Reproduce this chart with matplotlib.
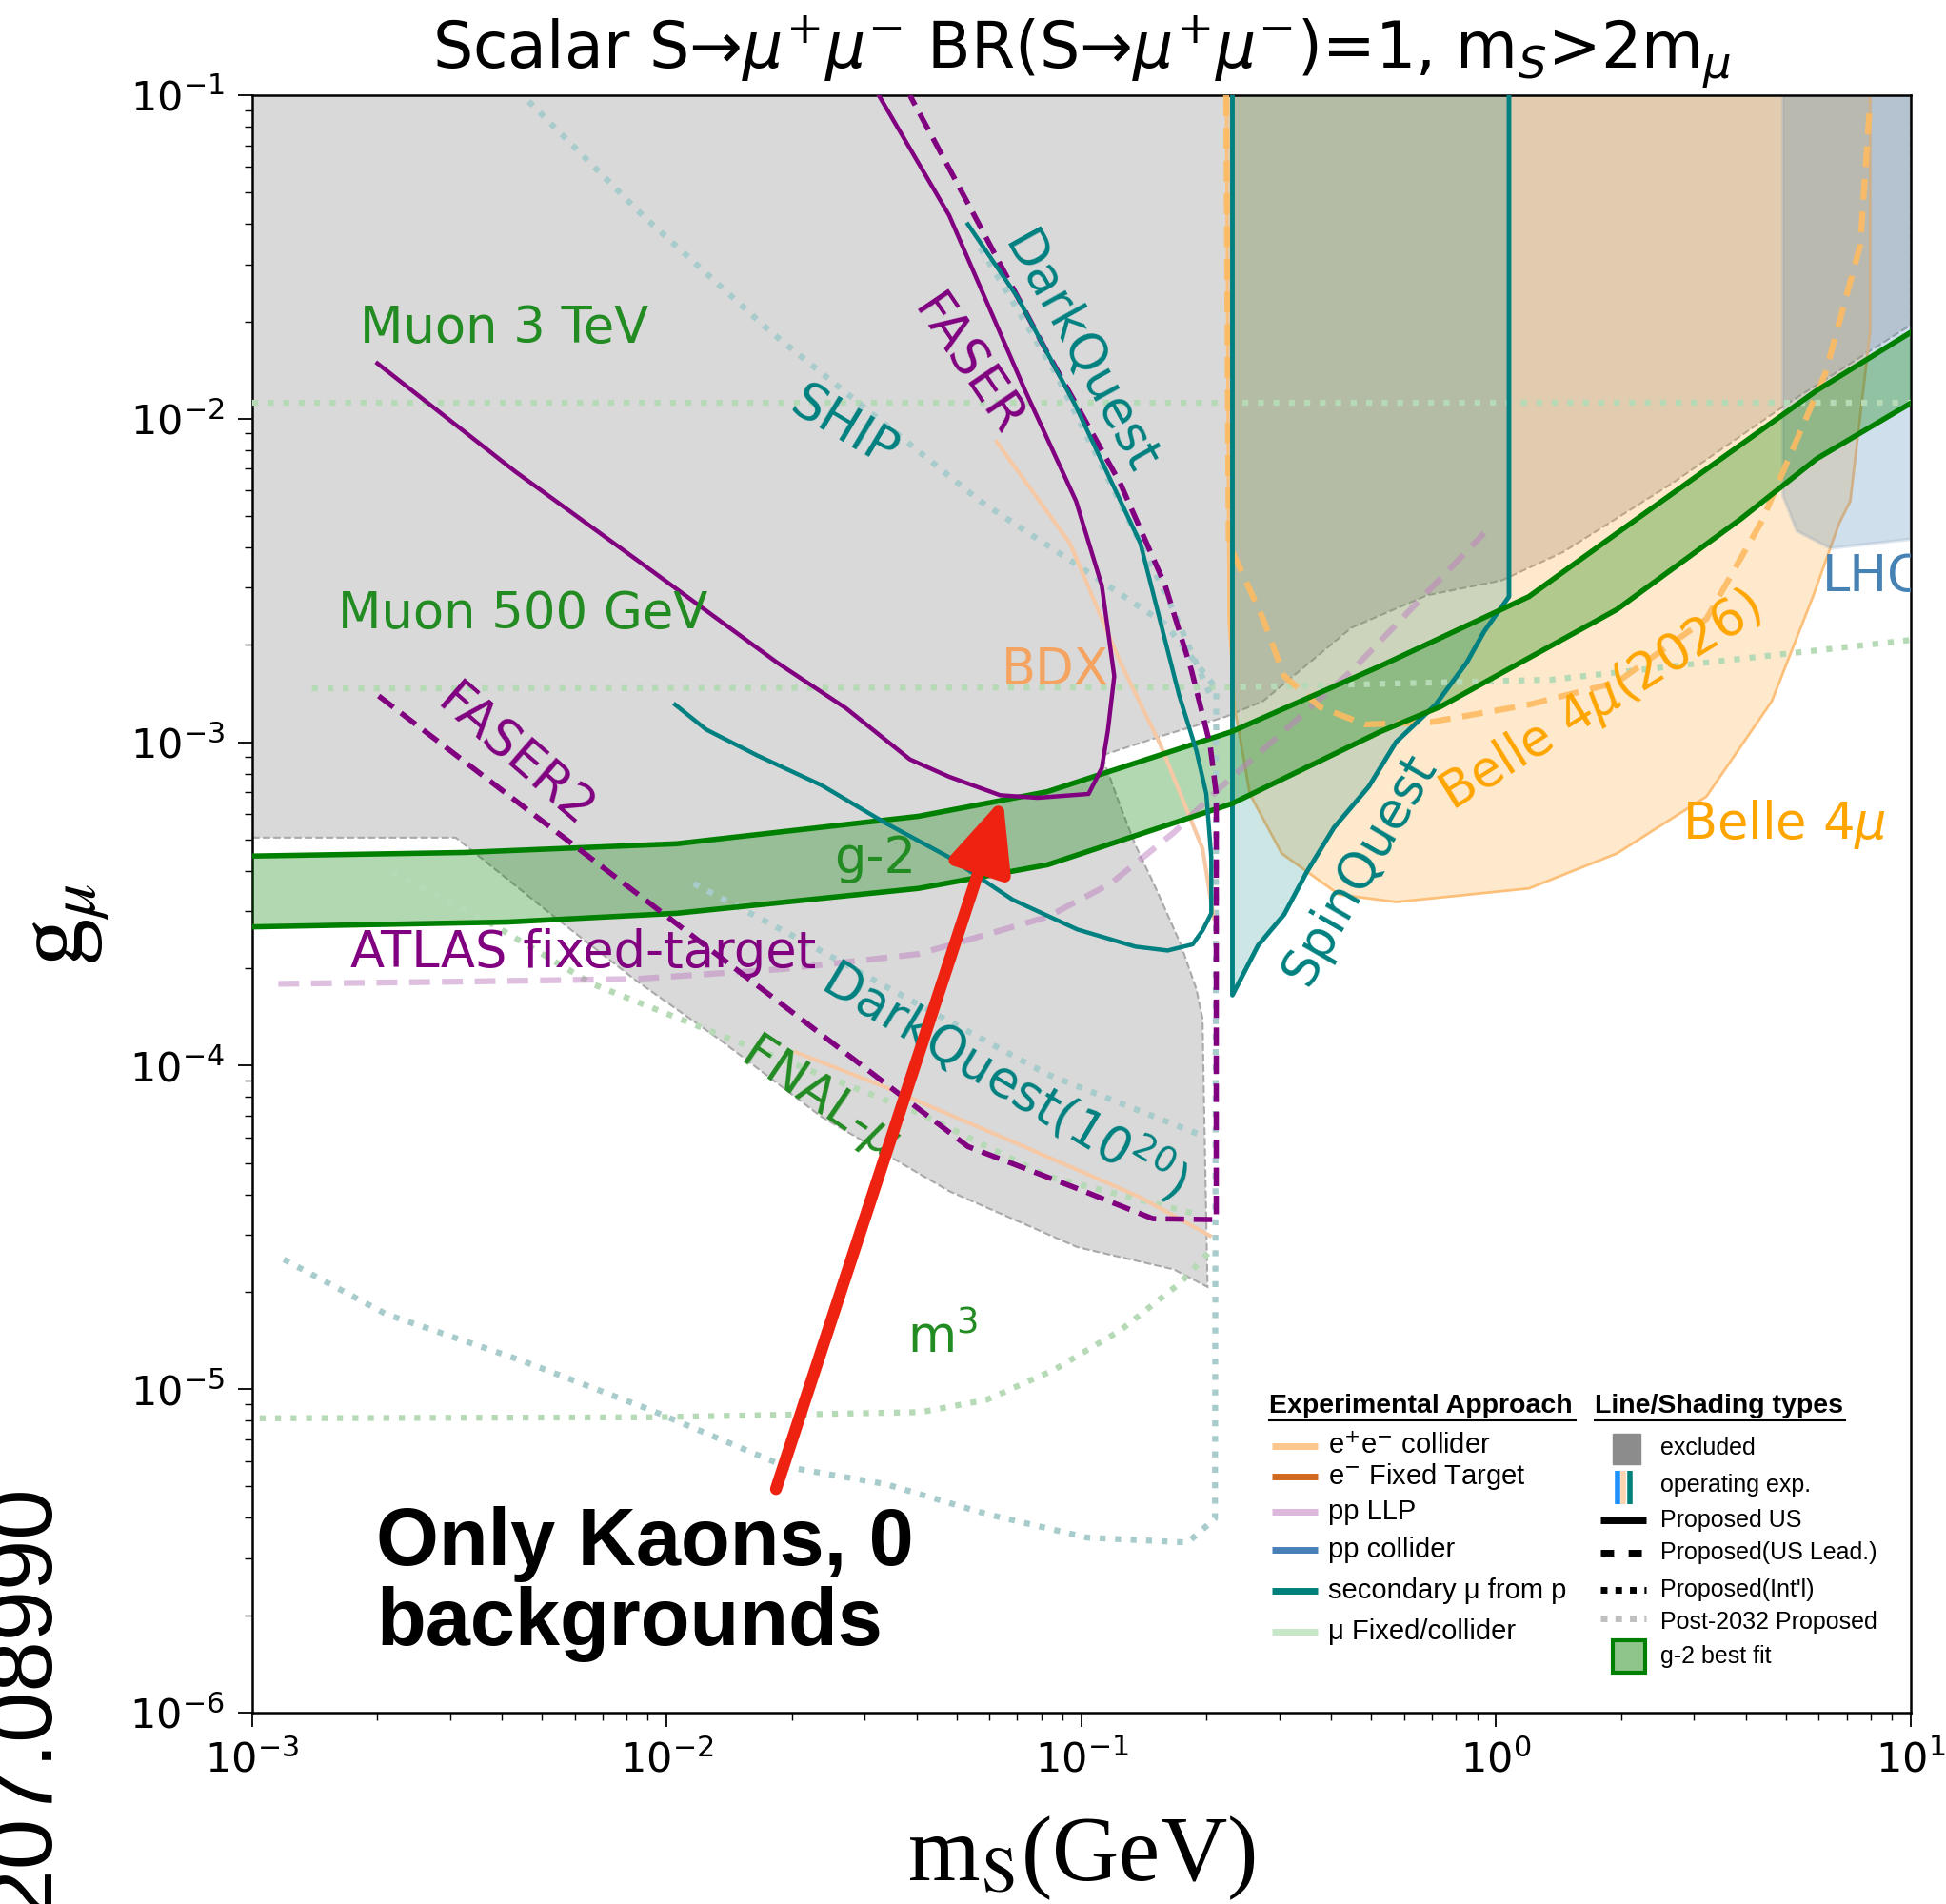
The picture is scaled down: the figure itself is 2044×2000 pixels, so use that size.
import numpy as np
import matplotlib
matplotlib.use('Agg')
import matplotlib.pyplot as plt
from matplotlib.patches import Rectangle

plt.rcParams['mathtext.fontset'] = 'dejavusans'

# all curves are read off the reference and stored as
# log10(m_S / GeV) ("lm") and log10(g_mu) ("lg")

# Muon 3 TeV line running into the FASER contour (solid purple)
muon_faser_lm = [-2.698, -2.366, -2.058, -1.734, -1.567, -1.414, -1.319, -1.196, -1.106, -0.983,
                 -0.951, -0.936, -0.921, -0.951, -1.013, -1.136, -1.319, -1.489]
muon_faser_lg = [-1.829, -2.163, -2.450, -2.754, -2.896, -3.053, -3.107, -3.164, -3.172, -3.160,
                 -3.080, -2.961, -2.796, -2.516, -2.255, -1.913, -1.372, -1.0]

# FASER2 / dashed purple contour
faser2_lm = [-2.695, -1.274, -1.010, -0.828, -0.675, -0.675, -0.690, -0.735, -0.798, -0.906, -1.088, -1.274, -1.414]
faser2_lg = [-2.857, -4.250, -4.380, -4.473, -4.476, -3.160, -3.007, -2.777, -2.516, -2.201, -1.783, -1.334, -1.0]

# DarkQuest (solid teal)
darkquest_lm = [-1.980, -1.905, -1.782, -1.627, -1.474, -1.319, -1.166, -1.010, -0.870, -0.792, -0.732,
                -0.708, -0.687, -0.687, -0.699, -0.723, -0.765, -0.858, -1.013, -1.154, -1.274]
darkquest_lg = [-2.884, -2.961, -3.041, -3.133, -3.249, -3.356, -3.487, -3.579, -3.632, -3.644, -3.625,
                -3.582, -3.529, -3.356, -3.160, -3.026, -2.853, -2.385, -1.963, -1.625, -1.399]

# SpinQuest (operating, teal shaded)
spinquest_lm = [-0.636, -0.636, -0.574, -0.511, -0.457, -0.391, -0.307, -0.241, -0.146, -0.071, -0.029, 0.031, 0.031]
spinquest_lg = [-1.0, -3.782, -3.628, -3.532, -3.402, -3.264, -3.137, -2.999, -2.884, -2.754, -2.658, -2.550, -1.0]

# excluded region (gray)
excluded_lm = [-3.0, 1.0, 1.0, 0.704, 0.423, 0.162, 0.013, -0.167, -0.349, -0.562, -0.654, -0.795, -0.951,
               -0.906, -0.870, -0.822, -0.762, -0.723, -0.708, -0.705, -0.696, -0.777, -1.010, -1.319,
               -1.627, -1.872, -2.075, -2.282, -2.509, -3.0]
excluded_lg = [-1.0, -1.0, -1.710, -1.952, -2.201, -2.412, -2.500, -2.546, -2.646, -2.873, -2.922, -2.976, -3.041,
               -3.199, -3.318, -3.448, -3.621, -3.763, -3.855, -4.077, -4.684, -4.630, -4.561, -4.388,
               -4.158, -3.920, -3.736, -3.529, -3.295, -3.295]

# Belle 4mu (orange shaded) and Belle 4mu(2026) (orange dashed)
belle_lm = [-0.651, -0.645, -0.630, -0.594, -0.517, -0.379, -0.241, 0.079, 0.291, 0.507, 0.665, 0.764, 0.827, 0.854, 0.902, 0.902]
belle_lg = [-1.0, -2.623, -2.896, -3.160, -3.344, -3.471, -3.494, -3.452, -3.344, -3.168, -2.873, -2.550, -2.324, -2.255, -1.729, -1.0]
belle2026_lm = [-0.651, -0.645, -0.562, -0.511, -0.424, -0.316, -0.158, 0.079, 0.291, 0.507, 0.641, 0.794, 0.878, 0.902]
belle2026_lg = [-1.0, -2.385, -2.619, -2.796, -2.892, -2.945, -2.938, -2.884, -2.815, -2.619, -2.316, -1.860, -1.464, -1.019]

# LHCb (blue shaded)
lhcb_lm = [0.692, 0.692, 0.725, 0.806, 0.991, 1.0, 1.0]
lhcb_lg = [-1.0, -2.239, -2.347, -2.401, -2.374, -2.374, -1.0]

# g-2 best fit band
g2_up_lm = [-3.0, -2.488, -1.977, -1.393, -1.082, -0.639, -0.280, 0.079, 0.324, 0.773, 1.0]
g2_up_lg = [-3.352, -3.341, -3.314, -3.229, -3.153, -2.968, -2.765, -2.550, -2.324, -1.913, -1.733]
g2_lo_lm = [-3.0, -2.384, -1.977, -1.393, -1.082, -0.639, -0.280, -0.134, 0.291, 0.590, 0.773, 1.0]
g2_lo_lg = [-3.571, -3.556, -3.529, -3.452, -3.379, -3.191, -2.968, -2.890, -2.590, -2.310, -2.124, -1.952]

# ATLAS fixed-target (pp LLP, dashed)
atlas_lm = [-2.937, -2.488, -2.075, -1.716, -1.393, -1.082, -0.930, -0.777, -0.669, -0.349, -0.029]
atlas_lg = [-3.747, -3.740, -3.732, -3.701, -3.655, -3.540, -3.437, -3.279, -3.145, -2.780, -2.354]

# e- fixed target lines (BDX and the one along FNAL)
bdx_lm = [-1.205, -1.028, -0.906, -0.810, -0.708, -0.681]
bdx_lg = [-2.071, -2.385, -2.754, -3.007, -3.329, -3.544]
efix_lm = [-1.690, -1.474, -1.166, -0.858, -0.690]
efix_lg = [-3.958, -4.066, -4.235, -4.407, -4.526]

# post-2032 (dotted) curves
muon3_dot_lm = [-3.0, 1.0]
muon3_dot_lg = [-1.952, -1.952]
muon500_dot_lm = [-2.856, -0.616, 0.132, 0.507, 1.0]
muon500_dot_lg = [-2.834, -2.830, -2.807, -2.754, -2.684]
ship_dot_lm = [-2.333, -2.058, -1.752, -1.474, -1.244, -1.013, -0.798, -0.675, -0.678, -0.744, -0.986,
               -1.229, -1.471, -1.713, -2.034, -2.354, -2.677, -2.934]
ship_dot_lg = [-1.019, -1.372, -1.729, -2.017, -2.255, -2.450, -2.635, -2.834, -5.400, -5.474, -5.459,
               -5.386, -5.294, -5.240, -5.067, -4.910, -4.768, -4.592]
dq20_dot_lm = [-1.935, -1.663, -1.363, -1.082, -0.717]
dq20_dot_lg = [-3.437, -3.621, -3.832, -4.027, -4.212]
dq_dot_lm = [-1.244, -1.064, -0.915, -0.795, -0.690]
dq_dot_lg = [-1.472, -1.856, -2.239, -2.546, -2.853]
fnal_dot_lm = [-2.662, -2.426, -2.180, -1.872, -1.393, -1.082, -0.717]
fnal_dot_lg = [-3.402, -3.559, -3.747, -3.905, -4.146, -4.342, -4.461]
m3_dot_lm = [-2.982, -2.034, -1.387, -1.229, -1.067, -0.906, -0.762, -0.681]
m3_dot_lg = [-5.090, -5.087, -5.071, -5.033, -4.941, -4.818, -4.672, -4.561]

PURPLE = '#800080'
TEAL = '#008080'
GREEN = '#008000'
TGREEN = '#228b22'
ORANGE = '#ffa500'
DOTGREEN = '#b5dab5'
DOTTEAL = '#a8cbcb'
DOT = (0, (1, 1.6))

# labels on the plot: text, m_S, g_mu, rotation, ha, colour
labels = [
    ('Muon 3 TeV', 1.82e-3, 1.90e-2, 0, 'left', TGREEN),
    ('Muon 500 GeV', 1.61e-3, 2.49e-3, 0, 'left', TGREEN),
    ('SHIP', 2.67e-2, 9.37e-3, -31, 'center', TEAL),
    ('FASER', 0.0532, 0.0146, -56, 'center', PURPLE),
    ('DarkQuest', 0.099, 0.0159, -61, 'center', TEAL),
    ('BDX', 0.0863, 1.67e-3, 0, 'center', '#f4a460'),
    ('FASER2', 4.31e-3, 9.02e-4, -41, 'center', PURPLE),
    ('g-2', 0.0318, 4.37e-4, 0, 'center', TGREEN),
    ('ATLAS fixed-target', 6.30e-3, 2.23e-4, 0, 'center', PURPLE),
    (r'DarkQuest(10$^{20}$)', 0.0655, 9.06e-5, -31, 'center', TEAL),
    (r'FNAL-$\mu$', 0.0233, 7.94e-5, -34, 'center', TGREEN),
    (r'm$^3$', 0.0463, 1.44e-5, 0, 'center', TGREEN),
    ('SpinQuest', 0.467, 4.06e-4, 60, 'center', TEAL),
    (r'Belle 4$\mu$(2026)', 1.79, 1.34e-3, 32, 'center', ORANGE),
    (r'Belle 4$\mu$', 4.95, 5.55e-4, 0, 'center', ORANGE),
    ('LHCb', 6.10, 3.24e-3, 0, 'left', 'steelblue'),
]

legend_approach = [('e$^{+}$e$^{-}$ collider', '#fdc68c'), ('e$^{-}$ Fixed Target', '#d2691e'),
                   ('pp LLP', '#dcb8dc'), ('pp collider', '#4a80b8'),
                   ('secondary \u03bc from p', '#00807a'), ('\u03bc Fixed/collider', '#c8e6c8')]
legend_types = ['excluded', 'operating exp.', 'Proposed US', 'Proposed(US Lead.)',
                "Proposed(Int'l)", 'Post-2032 Proposed', 'g-2 best fit']

LEGFONT = 'Liberation Sans'


def pts(lm, lg):
    return 10.0 ** np.asarray(lm, dtype=float), 10.0 ** np.asarray(lg, dtype=float)


def draw_regions(ax):
    x, y = pts(excluded_lm, excluded_lg)
    ax.fill(x, y, facecolor='#d9d9d9', edgecolor='#a9a9a9', lw=1.5, ls='--', zorder=1)
    x, y = pts(belle_lm, belle_lg)
    ax.fill(x, y, facecolor='#ff9f1a', alpha=0.22, edgecolor='none', zorder=2)
    ax.plot(x, y, color='#fdc07a', lw=2, zorder=2)
    x, y = pts(lhcb_lm, lhcb_lg)
    ax.fill(x, y, facecolor='steelblue', alpha=0.25, edgecolor='#8aa3bd', lw=2.5, zorder=2)
    x, y = pts(spinquest_lm, spinquest_lg)
    ax.fill(x, y, facecolor=TEAL, alpha=0.2, edgecolor='none', zorder=2)
    ax.plot(x, y, color=TEAL, lw=3.5, zorder=4)
    # g-2 band
    xu, yu = pts(g2_up_lm, g2_up_lg)
    xl, yl = pts(g2_lo_lm, g2_lo_lg)
    ax.fill(np.concatenate([xu, xl[::-1]]), np.concatenate([yu, yl[::-1]]),
            facecolor=GREEN, alpha=0.3, edgecolor='none', zorder=3)
    ax.plot(xu, yu, color=GREEN, lw=4, zorder=4)
    ax.plot(xl, yl, color=GREEN, lw=4, zorder=4)


def draw_curves(ax):
    for lm, lg, c in [(muon3_dot_lm, muon3_dot_lg, DOTGREEN), (muon500_dot_lm, muon500_dot_lg, DOTGREEN),
                      (ship_dot_lm, ship_dot_lg, DOTTEAL), (dq20_dot_lm, dq20_dot_lg, DOTTEAL),
                      (dq_dot_lm, dq_dot_lg, DOTTEAL), (fnal_dot_lm, fnal_dot_lg, DOTGREEN),
                      (m3_dot_lm, m3_dot_lg, DOTGREEN)]:
        x, y = pts(lm, lg)
        ax.plot(x, y, color=c, lw=4.5, ls=DOT, zorder=3)
    x, y = pts(bdx_lm, bdx_lg)
    ax.plot(x, y, color='#f6c9a6', lw=3, zorder=3)
    x, y = pts(efix_lm, efix_lg)
    ax.plot(x, y, color='#f6c9a6', lw=3, zorder=3)
    x, y = pts(atlas_lm, atlas_lg)
    ax.plot(x, y, color='#c080c0', alpha=0.5, lw=4.5, ls=(0, (3.5, 2)), zorder=3)
    x, y = pts(belle2026_lm, belle2026_lg)
    ax.plot(x, y, color='#fdbb62', alpha=0.9, lw=4.5, ls=(0, (3.5, 2)), zorder=3)
    x, y = pts(muon_faser_lm, muon_faser_lg)
    ax.plot(x, y, color=PURPLE, lw=3.2, zorder=4)
    x, y = pts(faser2_lm, faser2_lg)
    ax.plot(x, y, color=PURPLE, lw=4, ls=(0, (3.5, 1.8)), zorder=4)
    x, y = pts(darkquest_lm, darkquest_lg)
    ax.plot(x, y, color=TEAL, lw=3.2, zorder=4)


def draw_legend(ax):
    tr = ax.transAxes
    kw = dict(transform=tr, family=LEGFONT, va='center', zorder=10)
    ax.text(0.6133, 0.1896, 'Experimental Approach', fontsize=20.5, fontweight='bold', **kw)
    ax.text(0.8093, 0.1896, 'Line/Shading types', fontsize=20.5, fontweight='bold', **kw)
    ax.plot([0.6133, 0.7981], [0.1805, 0.1805], transform=tr, color='k', lw=1.5, zorder=10)
    ax.plot([0.8093, 0.9604], [0.1805, 0.1805], transform=tr, color='k', lw=1.5, zorder=10)
    ys = [0.165, 0.1458, 0.1243, 0.1005, 0.0752, 0.0499]
    for (name, c), yy in zip(legend_approach, ys):
        ax.plot([0.6148, 0.6425], [yy, yy], transform=tr, color=c, lw=5, solid_capstyle='butt', zorder=10)
        ax.text(0.6485, yy, name, fontsize=21, **kw)
    ys2 = [0.1635, 0.1404, 0.119, 0.099, 0.076, 0.056, 0.0345]
    for name, yy in zip(legend_types, ys2):
        ax.text(0.849, yy, name, fontsize=18, **kw)
    ax.add_patch(Rectangle((0.8205, 0.1535), 0.0164, 0.0192, transform=tr, color='#8c8c8c', zorder=10))
    for xx, c in [(0.8232, '#1e90ff'), (0.8268, '#fcd5b0'), (0.8304, '#00807a')]:
        ax.plot([xx, xx], [0.1289, 0.1497], transform=tr, color=c, lw=4, solid_capstyle='butt', zorder=10)
    ax.plot([0.813, 0.8407], [0.119, 0.119], transform=tr, color='k', lw=5, solid_capstyle='butt', zorder=10)
    ax.plot([0.813, 0.8407], [0.099, 0.099], transform=tr, color='k', lw=5, ls=(0, (2, 2.2)), zorder=10)
    ax.plot([0.813, 0.8407], [0.076, 0.076], transform=tr, color='k', lw=5, ls=(0, (1, 1.2)), zorder=10)
    ax.plot([0.813, 0.8407], [0.058, 0.058], transform=tr, color='#c0c0c0', lw=5, ls=(0, (1, 1.2)), zorder=10)
    ax.add_patch(Rectangle((0.8205, 0.0246), 0.0194, 0.0199, transform=tr, facecolor='#8fc58a',
                           edgecolor=GREEN, lw=3, zorder=10))


def main():
    fig = plt.figure(figsize=(20.44, 20.0), dpi=100)
    ax = fig.add_axes([0.1296, 0.1005, 0.8523, 0.8495])
    ax.set_xscale('log')
    ax.set_yscale('log')
    ax.set_xlim(1e-3, 10)
    ax.set_ylim(1e-6, 1e-1)

    draw_regions(ax)
    draw_curves(ax)

    for txt, xx, yy, rot, ha, c in labels:
        ax.text(xx, yy, txt, rotation=rot, ha=ha, va='center', color=c, fontsize=38,
                rotation_mode='anchor', zorder=5, clip_on=True)

    ax.annotate('', xy=(0.0646, 6.73e-4), xytext=(0.01833, 4.91e-6),
                arrowprops=dict(arrowstyle='-|>,head_length=0.45,head_width=0.2', color='#ee2211',
                                lw=9, mutation_scale=100, shrinkA=0, shrinkB=0), zorder=8)
    ax.text(0.0748, 0.128, 'Only Kaons, 0\nbackgrounds', transform=ax.transAxes, fontsize=61,
            fontweight='bold', family='Liberation Sans', va='top', ha='left', linespacing=1.07, zorder=8)

    draw_legend(ax)

    ax.tick_params(which='major', direction='out', length=11, width=1.3, labelsize=31, pad=10)
    ax.tick_params(which='minor', direction='out', length=6, width=1.0)
    for s in ax.spines.values():
        s.set_linewidth(1.8)

    fig.text(0.5558, 0.964, 'Scalar S\u2192$\\mu^{+}\\mu^{-}$ BR(S\u2192$\\mu^{+}\\mu^{-}$)=1, m$_S$>2m$_\\mu$',
             ha='center', va='baseline', fontsize=48)
    plt.rcParams['mathtext.fontset'] = 'stix'
    fig.text(0.5558, 0.0125, r'm$_\mathrm{S}$(GeV)', ha='center', va='baseline', fontsize=70,
             family='Liberation Serif')
    fig.text(0.035, 0.5145, r'g$_\mu$', ha='center', va='center', rotation=90, fontsize=72,
             family='Liberation Serif')
    fig.text(50 / 2044, 1 - 1558 / 2000, '2207.08990', rotation=90, rotation_mode='anchor',
             ha='right', va='baseline', fontsize=69, family='Liberation Sans')

    fig.savefig('out.png', dpi=100)


main()
